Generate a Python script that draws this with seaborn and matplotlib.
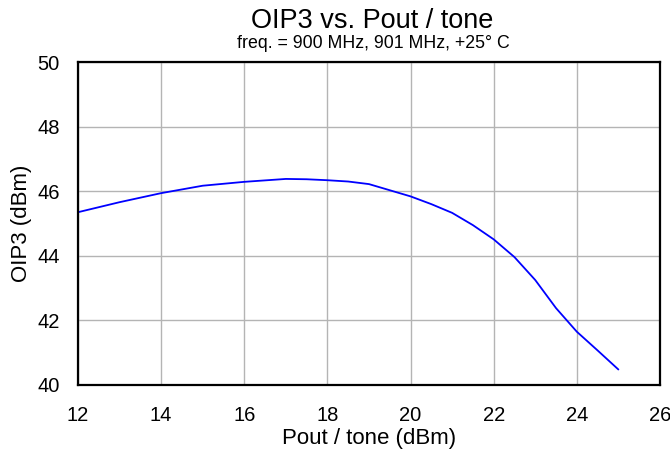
import matplotlib
matplotlib.use("Agg")
import matplotlib.pyplot as plt
import seaborn as sns
import pandas as pd

pout = [12, 13, 14, 15, 16, 17, 17.5, 18, 18.5, 19, 19.5, 20, 20.5, 21, 21.5, 22, 22.5, 23, 23.5, 24, 24.5, 25]
oip3 = [45.35, 45.66, 45.94, 46.17, 46.29, 46.38, 46.37, 46.34, 46.3, 46.22, 46.03, 45.84, 45.6, 45.33, 44.95, 44.51, 43.96, 43.25, 42.38, 41.65, 41.07, 40.48]
xticks = [12, 14, 16, 18, 20, 22, 24, 26]
yticks = [40, 42, 44, 46, 48, 50]

sns.set_theme(style="white")
plt.rcParams['font.family'] = ['Liberation Sans', 'DejaVu Sans']

df = pd.DataFrame({"pout": pout, "oip3": oip3})
fig = plt.figure(figsize=(6.7, 4.58), dpi=100)
ax = fig.add_axes([0.1164, 0.1594, 0.8686, 0.7052])
sns.lineplot(data=df, x="pout", y="oip3", ax=ax, color="#0000ff", linewidth=1.3)

ax.set_xlim(12, 26)
ax.set_ylim(40, 50)
ax.set_xticks(xticks)
ax.set_yticks(yticks)
ax.grid(True, color="#b4b4b4", linewidth=1.0)
for s in ax.spines.values():
    s.set_color("black")
    s.set_linewidth(1.6)
ax.tick_params(axis="both", length=0, labelsize=14.5, colors="black")
ax.tick_params(axis="x", pad=15)
ax.tick_params(axis="y", pad=13)
ax.set_xlabel("Pout / tone (dBm)", fontsize=16, color="black", labelpad=2)
ax.set_ylabel("OIP3 (dBm)", fontsize=16, color="black", labelpad=4)

fig.text(0.5555, 0.955, "OIP3 vs. Pout / tone", ha="center", va="center", fontsize=19.5, color="black")
fig.text(0.5575, 0.906, "freq. = 900 MHz, 901 MHz, +25° C", ha="center", va="center", fontsize=12.8, color="black")

fig.savefig("out.png", dpi=100)
